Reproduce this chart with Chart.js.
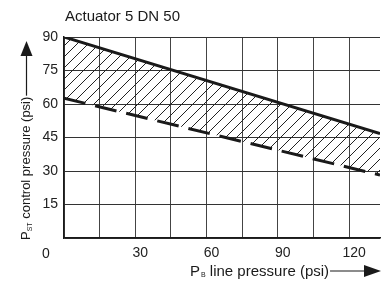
<!DOCTYPE html>
<html>
<head>
<meta charset="utf-8">
<script src="https://cdn.jsdelivr.net/npm/chart.js@4"></script>
<style>
  html, body { margin: 0; padding: 0; background: #fff; }
</style>
</head>
<body>
<canvas id="chart" width="381" height="282"></canvas>
<script>
// values
const linePressure = [0, 133];        // P_B line pressure (psi)
const upperLimit = [90, 46.8];        // solid boundary
const lowerLimit = [62.6, 28.2];      // dashed boundary
const yTickValues = [0, 15, 30, 45, 60, 75, 90];
const xTickValues = [0, 15, 30, 45, 60, 75, 90, 105, 120];
const xTickLabels = ["", "", "30", "", "60", "", "90", "", "120"];

const FONT = '"Liberation Sans", Arial, sans-serif';
const INK = "#1a1a1a";

function toPoints(ys) {
  return linePressure.map((x, i) => ({ x: x, y: ys[i] }));
}

// diagonal hatching
function hatchPattern() {
  const s = 11;
  const c = document.createElement("canvas");
  c.width = s; c.height = s;
  const g = c.getContext("2d");
  g.strokeStyle = "#222";
  g.lineWidth = 1;
  g.beginPath();
  g.moveTo(0, s); g.lineTo(s, 0);
  g.moveTo(-1, 1); g.lineTo(1, -1);
  g.moveTo(s - 1, s + 1); g.lineTo(s + 1, s - 1);
  g.stroke();
  return g.createPattern(c, "repeat");
}

const extras = {
  id: "extras",
  afterDraw(chart) {
    const ctx = chart.ctx;
    ctx.save();
    ctx.fillStyle = INK;
    ctx.strokeStyle = INK;
    ctx.textBaseline = "alphabetic";

    ctx.font = "15px " + FONT;
    ctx.textAlign = "left";
    ctx.fillText("Actuator 5 DN 50", 65, 21);

    ctx.font = "14px " + FONT;
    ctx.textAlign = "center";
    ctx.fillText("0", 46, 258);

    // x axis title with arrow
    ctx.textAlign = "left";
    let x = 190, base = 276;
    ctx.font = "15px " + FONT;
    ctx.fillText("P", x, base);
    x += ctx.measureText("P").width + 1;
    ctx.font = "7px " + FONT;
    ctx.fillText("B", x, base + 1);
    x += ctx.measureText("B").width;
    ctx.font = "15px " + FONT;
    ctx.fillText(" line pressure (psi)", x, base);
    x += ctx.measureText(" line pressure (psi)").width + 1;
    ctx.lineWidth = 1.2;
    ctx.beginPath();
    ctx.moveTo(x, 271); ctx.lineTo(366, 271);
    ctx.stroke();
    ctx.beginPath();
    ctx.moveTo(381, 271); ctx.lineTo(364, 265); ctx.lineTo(364, 277);
    ctx.closePath(); ctx.fill();

    // y axis title with arrow
    ctx.save();
    ctx.translate(30, 240);
    ctx.rotate(-Math.PI / 2);
    let t = 0;
    ctx.font = "13px " + FONT;
    ctx.fillText("P", t, 0);
    t += ctx.measureText("P").width;
    ctx.font = "7px " + FONT;
    ctx.fillText("ST", t, 2);
    t += ctx.measureText("ST").width;
    ctx.font = "13px " + FONT;
    ctx.fillText(" control pressure (psi)", t, 0);
    t += ctx.measureText(" control pressure (psi)").width + 1;
    ctx.restore();
    const yEnd = 240 - t;
    ctx.beginPath();
    ctx.moveTo(26.5, yEnd); ctx.lineTo(26.5, 54);
    ctx.stroke();
    ctx.beginPath();
    ctx.moveTo(26.5, 41); ctx.lineTo(20.5, 56); ctx.lineTo(32.5, 56);
    ctx.closePath(); ctx.fill();

    ctx.restore();
  }
};

new Chart(document.getElementById("chart"), {
  type: "line",
  data: {
    datasets: [
      {
        data: toPoints(lowerLimit),
        borderColor: INK,
        borderWidth: 3,
        borderDash: [22, 10],
        pointRadius: 0,
        fill: false
      },
      {
        data: toPoints(upperLimit),
        borderColor: INK,
        borderWidth: 3,
        pointRadius: 0,
        backgroundColor: hatchPattern(),
        fill: "-1"
      }
    ]
  },
  options: {
    responsive: false,
    animation: false,
    layout: { padding: { top: 37, right: 1, left: 0, bottom: 0 } },
    plugins: { legend: { display: false }, tooltip: { enabled: false } },
    scales: {
      x: {
        type: "linear",
        min: 0,
        max: linePressure[linePressure.length - 1],
        afterBuildTicks: (s) => { s.ticks = xTickValues.map(v => ({ value: v })); },
        afterFit: (s) => { s.height = 44; },
        grid: { color: "#444", lineWidth: 1, drawTicks: false },
        border: { color: INK, width: 1.5 },
        ticks: {
          padding: 7,
          labelOffset: 5,
          color: "#222",
          font: { family: FONT, size: 14 },
          maxRotation: 0,
          autoSkip: false,
          callback: (v, i) => xTickLabels[i]
        }
      },
      y: {
        min: 0,
        max: 90,
        afterBuildTicks: (s) => { s.ticks = yTickValues.map(v => ({ value: v })); },
        afterFit: (s) => { s.width = 64; },
        grid: { color: "#333", lineWidth: 1, drawTicks: false },
        border: { color: INK, width: 1.5 },
        ticks: {
          padding: 6,
          color: "#222",
          font: { family: FONT, size: 14 },
          callback: (v) => (v === 0 ? "" : String(v))
        }
      }
    }
  },
  plugins: [extras]
});
</script>
</body>
</html>
